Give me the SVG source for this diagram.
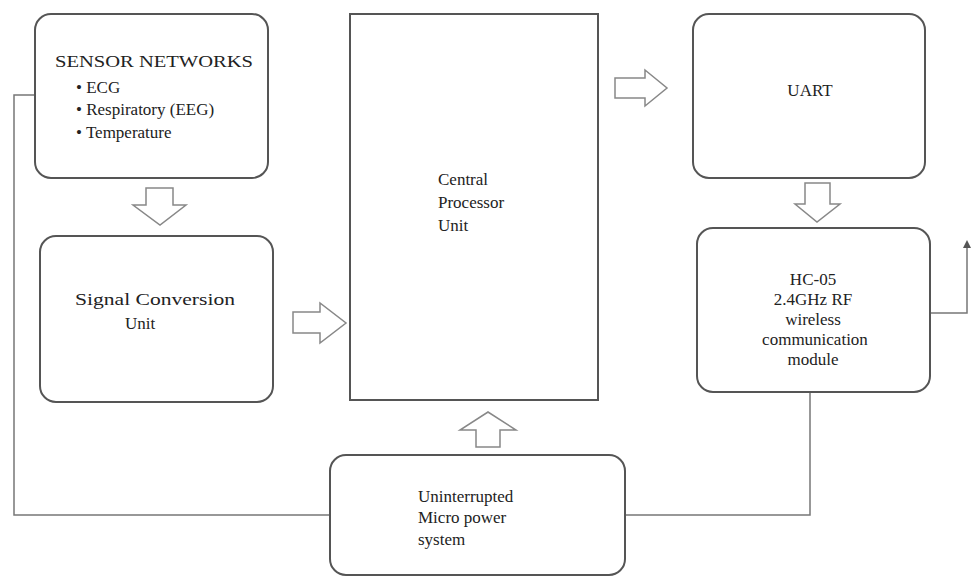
<svg xmlns="http://www.w3.org/2000/svg" width="974" height="577" viewBox="0 0 974 577">
<style>
.box{fill:#fff;stroke:#555;stroke-width:2}
.t{font-family:"Liberation Serif",serif;font-size:17px;fill:#222}
.blk{fill:#fff;stroke:#888;stroke-width:1.5}
.ln{fill:none;stroke:#777;stroke-width:1.5}
</style>
<defs>
<marker id="ah" markerWidth="8" markerHeight="8" refX="4" refY="4" orient="auto" markerUnits="userSpaceOnUse"><path d="M0,0 L8,4 L0,8 z" fill="#555"/></marker>
</defs>
<rect width="974" height="577" fill="#fff"/>
<g id="connectors">
<polyline class="ln" points="330,515 14,515 14,95 35,95"/>
<polyline class="ln" points="625,515 810,515 810,392"/>
<polyline class="ln" points="930,313 967,313 967,244" marker-end="url(#ah)"/>
<path class="blk" d="M146,188 H173 V205 H186 L160,225 L133,205 H146 Z"/>
<path class="blk" d="M293,312 H320 V303 L346,323 L320,343 V333 H293 Z"/>
<path class="blk" d="M615,78 H645 V70 L667,88 L645,106 V98 H615 Z"/>
<path class="blk" d="M805,183 H830 V204 H840 L817,222 L795,204 H805 Z"/>
<path class="blk" d="M476,447 H500 V430 H516 L488,412 L460,430 H476 Z"/>
</g>
<g id="sensor">
<rect class="box" x="35" y="14" width="233" height="164" rx="16"/>
<text class="t" x="55" y="67" textLength="198" lengthAdjust="spacingAndGlyphs">SENSOR NETWORKS</text>
<text class="t" x="76" y="93">• ECG</text>
<text class="t" x="76" y="115">• Respiratory (EEG)</text>
<text class="t" x="76" y="138">• Temperature</text>
</g>
<g id="signal">
<rect class="box" x="40" y="236" width="233" height="166" rx="16"/>
<text class="t" x="75" y="305" textLength="160" lengthAdjust="spacingAndGlyphs">Signal Conversion</text>
<text class="t" x="125" y="329">Unit</text>
</g>
<g id="cpu">
<rect class="box" x="350" y="14" width="248" height="386"/>
<text class="t" x="438" y="185">Central</text>
<text class="t" x="438" y="208">Processor</text>
<text class="t" x="438" y="231">Unit</text>
</g>
<g id="uart">
<rect class="box" x="693" y="14" width="232" height="164" rx="16"/>
<text class="t" x="810" y="96" text-anchor="middle">UART</text>
</g>
<g id="hc05">
<rect class="box" x="697" y="228" width="233" height="164" rx="16"/>
<text class="t" x="813" y="285" text-anchor="middle">HC-05</text>
<text class="t" x="813" y="305" text-anchor="middle">2.4GHz RF</text>
<text class="t" x="813" y="325" text-anchor="middle">wireless</text>
<text class="t" x="815" y="345" text-anchor="middle">communication</text>
<text class="t" x="813" y="365" text-anchor="middle">module</text>
</g>
<g id="power">
<rect class="box" x="330" y="455" width="295" height="120" rx="16"/>
<text class="t" x="418" y="502">Uninterrupted</text>
<text class="t" x="418" y="523">Micro power</text>
<text class="t" x="418" y="545">system</text>
</g>
</svg>
